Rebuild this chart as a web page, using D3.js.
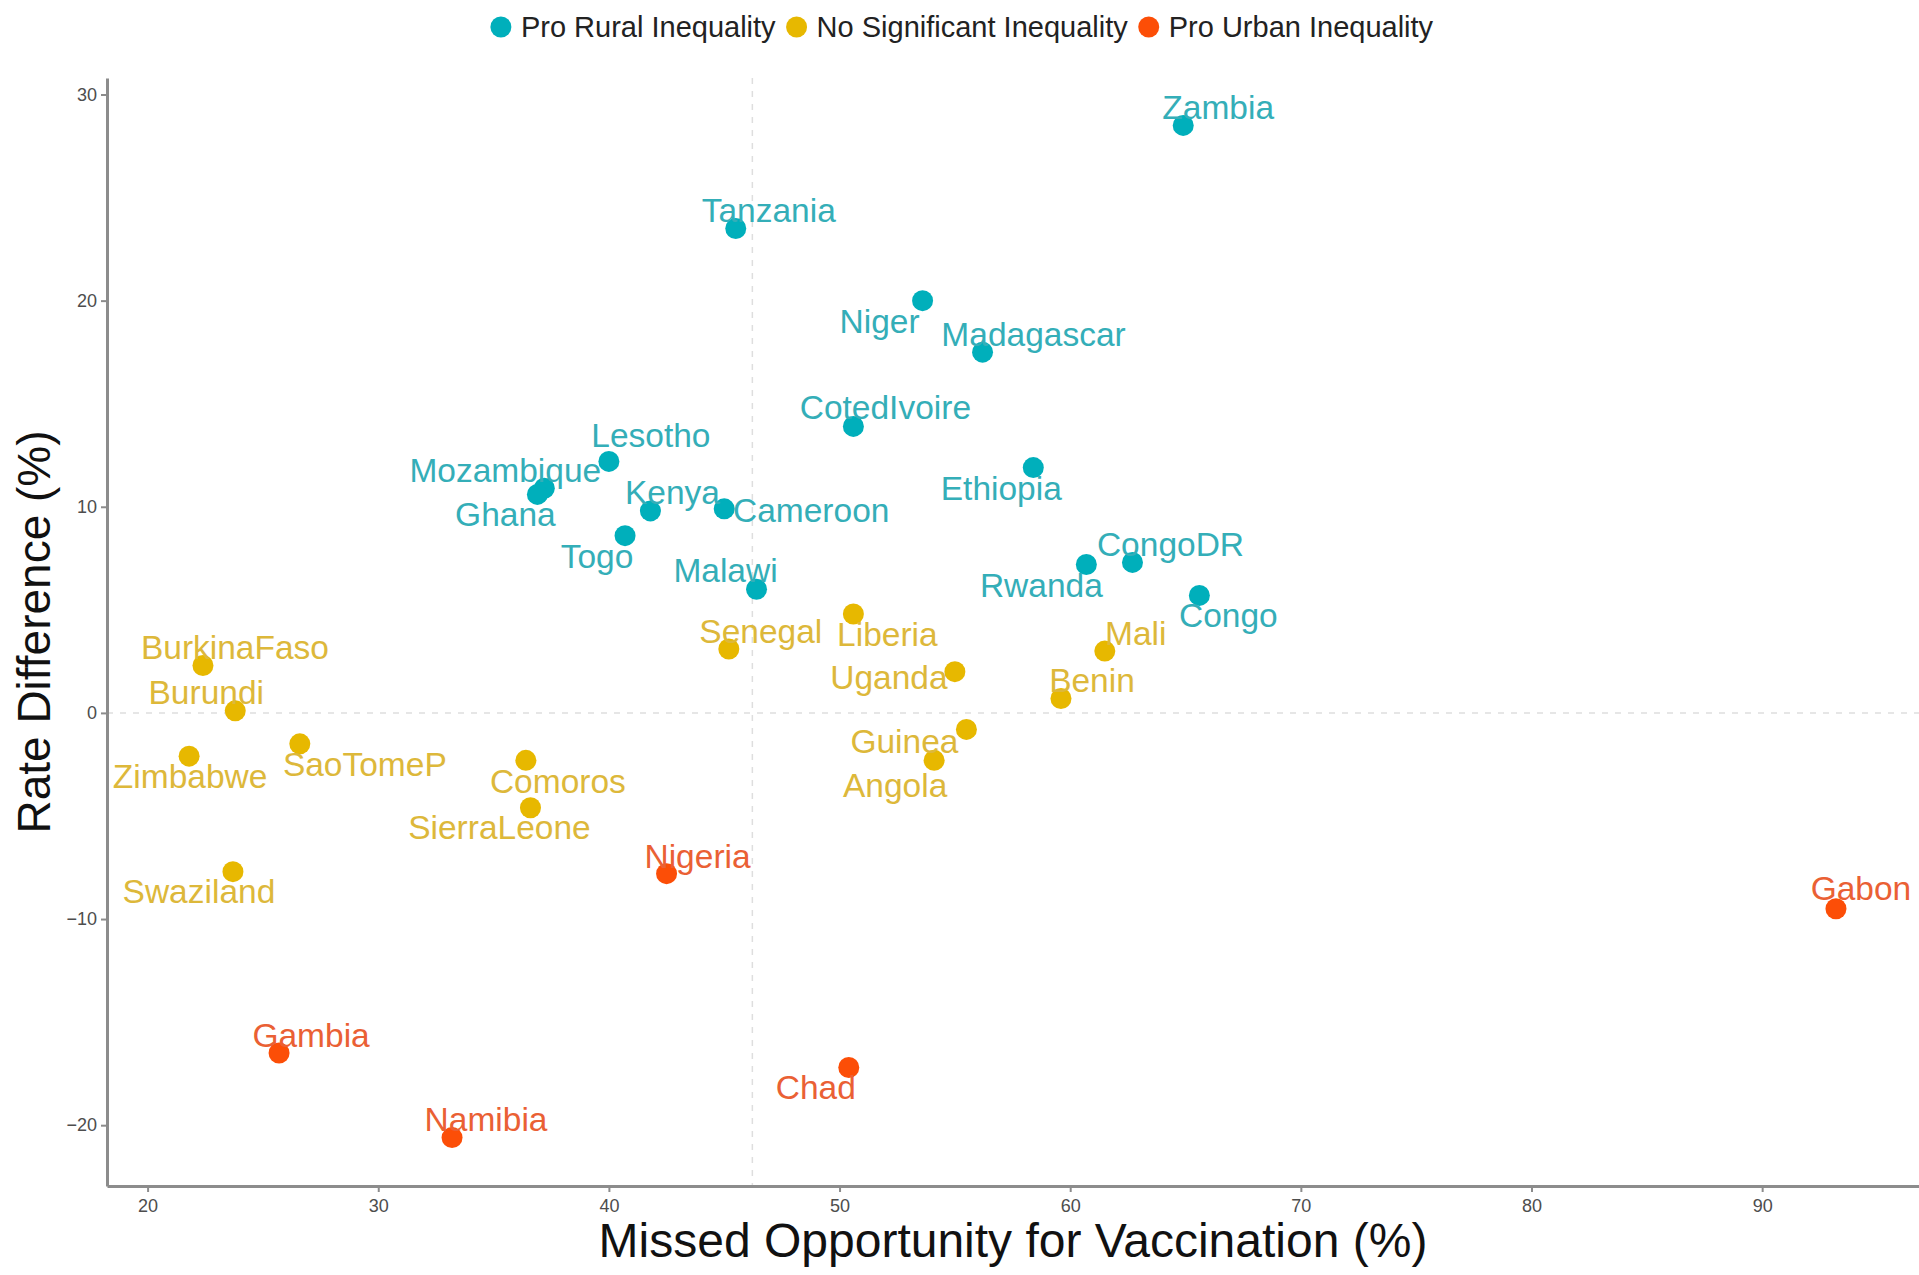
<!DOCTYPE html>
<html>
<head>
<meta charset="utf-8">
<script src="https://cdn.jsdelivr.net/npm/d3@7"></script>
<style>
  html, body { margin: 0; padding: 0; background: #ffffff; }
  svg { display: block; font-family: "Liberation Sans", Arial, Helvetica, sans-serif; }
</style>
</head>
<body>
<svg id="chart" width="1919" height="1275"></svg>
<script>
// Countries and their values
const countries = [
  "Zambia", "Tanzania", "Niger", "Madagascar", "CotedIvoire", "Lesotho", "Ethiopia",
  "Mozambique", "Ghana", "Kenya", "Cameroon", "Togo", "Malawi", "Rwanda", "CongoDR", "Congo",
  "BurkinaFaso", "Burundi", "Zimbabwe", "SaoTomeP", "Comoros", "SierraLeone", "Swaziland",
  "Senegal", "Liberia", "Uganda", "Mali", "Benin", "Guinea", "Angola",
  "Nigeria", "Gabon", "Gambia", "Chad", "Namibia"
];
// Missed opportunity for vaccination (%)
const missedOpportunity = [
  64.9, 45.5, 53.6, 56.2, 50.6, 40.0, 58.4,
  37.2, 36.9, 41.8, 45.0, 40.7, 46.4, 60.7, 62.7, 65.6,
  22.4, 23.8, 21.8, 26.6, 36.4, 36.6, 23.7,
  45.2, 50.6, 55.0, 61.5, 59.6, 55.5, 54.1,
  42.5, 93.2, 25.7, 50.4, 33.2
];
// Rate difference (%)
const rateDifference = [
  28.5, 23.5, 20.0, 17.5, 13.9, 12.2, 11.9,
  10.9, 10.6, 9.8, 9.9, 8.6, 6.0, 7.2, 7.3, 5.7,
  2.3, 0.1, -2.1, -1.5, -2.3, -4.6, -7.7,
  3.1, 4.8, 2.0, 3.0, 0.7, -0.8, -2.3,
  -7.8, -9.5, -16.5, -17.2, -20.6
];
// Inequality group of each country
const groups = [
  "Pro Rural Inequality", "Pro Rural Inequality", "Pro Rural Inequality", "Pro Rural Inequality",
  "Pro Rural Inequality", "Pro Rural Inequality", "Pro Rural Inequality", "Pro Rural Inequality",
  "Pro Rural Inequality", "Pro Rural Inequality", "Pro Rural Inequality", "Pro Rural Inequality",
  "Pro Rural Inequality", "Pro Rural Inequality", "Pro Rural Inequality", "Pro Rural Inequality",
  "No Significant Inequality", "No Significant Inequality", "No Significant Inequality",
  "No Significant Inequality", "No Significant Inequality", "No Significant Inequality",
  "No Significant Inequality", "No Significant Inequality", "No Significant Inequality",
  "No Significant Inequality", "No Significant Inequality", "No Significant Inequality",
  "No Significant Inequality", "No Significant Inequality",
  "Pro Urban Inequality", "Pro Urban Inequality", "Pro Urban Inequality",
  "Pro Urban Inequality", "Pro Urban Inequality"
];
const groupNames = ["Pro Rural Inequality", "No Significant Inequality", "Pro Urban Inequality"];
const xTicks = [20, 30, 40, 50, 60, 70, 80, 90];
const yTicks = [-20, -10, 0, 10, 20, 30];
// Reference lines: mean missed opportunity and zero difference
const xReference = [46.22];
const yReference = [0];

// Label placement (pixel offsets from each point)
const labelOffsets = {
  Zambia: [35, -18], Tanzania: [33, -18], Niger: [-43, 21], Madagascar: [51, -18],
  CotedIvoire: [32, -19], Lesotho: [42, -26], Ethiopia: [-32, 21], Mozambique: [-39, -18],
  Ghana: [-32, 20], Kenya: [22, -18], Cameroon: [87, 2], Togo: [-28, 21],
  Malawi: [-31, -19], Rwanda: [-45, 21], CongoDR: [38, -18], Congo: [29, 20],
  BurkinaFaso: [32, -18], Burundi: [-29, -18], Zimbabwe: [1, 20], SaoTomeP: [65, 21],
  Comoros: [32, 21], SierraLeone: [-31, 20], Swaziland: [-34, 20], Senegal: [32, -18],
  Liberia: [34, 21], Uganda: [-66, 6], Mali: [31, -18], Benin: [31, -18],
  Guinea: [-62, 12], Angola: [-39, 25], Nigeria: [31, -17], Gabon: [25, -20],
  Gambia: [32, -18], Chad: [-33, 20], Namibia: [34, -18]
};

const pointColor = d3.scaleOrdinal().domain(groupNames).range(["#00AFBB", "#E7B800", "#FC4E07"]);
const labelColor = d3.scaleOrdinal().domain(groupNames).range(["#34AEB8", "#DDB83A", "#EA6034"]);

const data = countries.map((c, i) => ({
  name: c, x: missedOpportunity[i], y: rateDifference[i], group: groups[i]
}));

const svg = d3.select("#chart");
const plot = { left: 107, right: 1919, top: 78, bottom: 1186 };

const x = d3.scaleLinear().domain([18.24, 96.8]).range([plot.left, plot.right]);
const y = d3.scaleLinear().domain([-22.95, 30.8]).range([plot.bottom, plot.top]);

// Dashed reference lines
svg.append("g").selectAll("line.vref").data(xReference).join("line")
  .attr("x1", d => x(d)).attr("x2", d => x(d))
  .attr("y1", plot.top).attr("y2", plot.bottom)
  .attr("stroke", "#dedede").attr("stroke-width", 1.5).attr("stroke-dasharray", "6,7");
svg.append("g").selectAll("line.href").data(yReference).join("line")
  .attr("x1", plot.left).attr("x2", plot.right)
  .attr("y1", d => y(d)).attr("y2", d => y(d))
  .attr("stroke", "#dedede").attr("stroke-width", 1.5).attr("stroke-dasharray", "6,7");

// Axes
const xAxis = svg.append("g")
  .attr("transform", `translate(0,${plot.bottom})`)
  .call(d3.axisBottom(x).tickValues(xTicks).tickSize(6).tickPadding(4).tickSizeOuter(0));
const yAxis = svg.append("g")
  .attr("transform", `translate(${plot.left},0)`)
  .call(d3.axisLeft(y).tickValues(yTicks).tickSize(6).tickPadding(4).tickSizeOuter(0)
    .tickFormat(d => d < 0 ? "\u2212" + Math.abs(d) : d));
[xAxis, yAxis].forEach(a => {
  a.select(".domain").attr("stroke", "#8c8c8c").attr("stroke-width", 3);
  a.selectAll(".tick line").attr("stroke", "#8c8c8c").attr("stroke-width", 2);
  a.selectAll(".tick text").attr("fill", "#4d4d4d").attr("font-size", 18)
    .attr("font-family", "\"Liberation Sans\", Arial, sans-serif");
});
xAxis.selectAll(".tick text").attr("dy", "0.9em");

// Axis titles
svg.append("text")
  .attr("x", (plot.left + plot.right) / 2).attr("y", 1240)
  .attr("text-anchor", "middle").attr("dominant-baseline", "central")
  .attr("font-size", 48).attr("fill", "#111")
  .text("Missed Opportunity for Vaccination (%)");
svg.append("text")
  .attr("transform", `translate(34,${(plot.top + plot.bottom) / 2}) rotate(-90)`)
  .attr("text-anchor", "middle").attr("dominant-baseline", "central")
  .attr("font-size", 46).attr("fill", "#111")
  .text("Rate Difference (%)");

// Points
svg.append("g").selectAll("circle").data(data).join("circle")
  .attr("cx", d => x(d.x)).attr("cy", d => y(d.y)).attr("r", 10.5)
  .attr("fill", d => pointColor(d.group));

// Country labels
svg.append("g").selectAll("text").data(data).join("text")
  .attr("x", d => x(d.x) + labelOffsets[d.name][0])
  .attr("y", d => y(d.y) + labelOffsets[d.name][1])
  .attr("text-anchor", "middle").attr("dominant-baseline", "central")
  .attr("font-size", 33.5).attr("fill", d => labelColor(d.group))
  .text(d => d.name);

// Legend across the top
const legend = svg.append("g");
const items = legend.selectAll("g").data(groupNames).join("g");
items.append("circle").attr("r", 10.5).attr("cy", 0).attr("fill", d => pointColor(d));
items.append("text").attr("x", 20).attr("dominant-baseline", "central")
  .attr("font-size", 29).attr("fill", "#222").text(d => d);
let cursor = 0;
items.each(function () {
  const g = d3.select(this);
  g.attr("transform", `translate(${cursor},0)`);
  cursor += 20 + g.select("text").node().getComputedTextLength() + 21;
});
const legendWidth = cursor - 21 + 10;
legend.attr("transform", `translate(${962 - legendWidth / 2 + 10},27)`);
</script>
</body>
</html>
